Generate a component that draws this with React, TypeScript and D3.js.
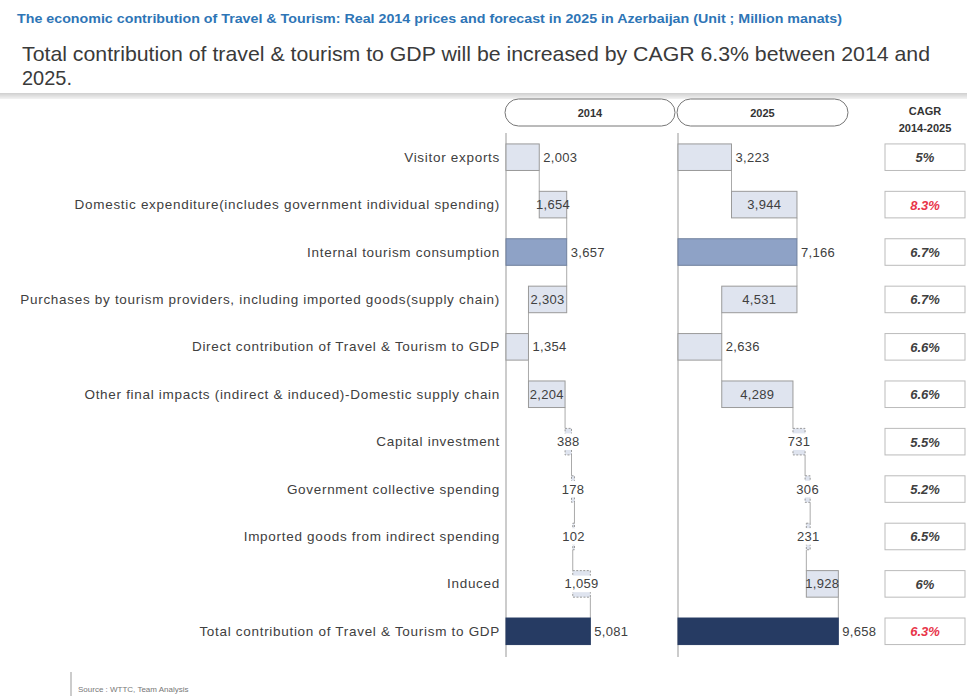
import React from "react";
import * as d3 from "d3";

const categories = [
  "Visitor exports",
  "Domestic expenditure(includes government individual spending)",
  "Internal tourism consumption",
  "Purchases by tourism providers, including imported goods(supply chain)",
  "Direct contribution of Travel & Tourism to GDP",
  "Other final impacts (indirect & induced)-Domestic supply chain",
  "Capital investment",
  "Government collective spending",
  "Imported goods from indirect spending",
  "Induced",
  "Total contribution of Travel & Tourism to GDP",
];

// step type of each row in the waterfall
const steps = ["base", "up", "subtotal", "down", "subtotal", "up", "up", "up", "down", "up", "total"];

const values2014 = [2003, 1654, 3657, 2303, 1354, 2204, 388, 178, 102, 1059, 5081];
const values2025 = [3223, 3944, 7166, 4531, 2636, 4289, 731, 306, 231, 1928, 9658];

const cagrLabels = ["5%", "8.3%", "6.7%", "6.7%", "6.6%", "6.6%", "5.5%", "5.2%", "6.5%", "6%", "6.3%"];
const cagrHighlight = [false, true, false, false, false, false, false, false, false, false, true];

const years = ["2014", "2025"];

const W = 967;
const H = 698;

type Seg = { start: number; end: number; value: number; step: string; run: number };

function buildSegments(values: number[]): Seg[] {
  let run = 0;
  return values.map((v, i) => {
    const step = steps[i];
    let start = 0;
    let end = v;
    if (step === "up") {
      start = run;
      end = run + v;
      run = end;
    } else if (step === "down") {
      start = run - v;
      end = run;
      run = start;
    } else {
      start = 0;
      end = v;
      run = v;
    }
    return { start, end, value: v, step, run };
  });
}

const fmt = d3.format(",");

export default function App() {
  const x = d3.scaleLinear().domain([0, 10000]).range([0, 166]);
  const y = d3
    .scaleBand()
    .domain(categories)
    .range([133.5, 655])
    .paddingInner(0.44)
    .paddingOuter(0.22);
  const bh = y.bandwidth();
  const panels = [
    { x0: 506, segs: buildSegments(values2014), pill: [505, 675] },
    { x0: 678, segs: buildSegments(values2025), pill: [677, 848] },
  ];
  const textCol = "#404040";
  const font = "'Liberation Sans', Arial, sans-serif";

  return (
    <div style={{ position: "absolute", left: 0, top: 0 }}>
      <svg width={W} height={H} style={{ display: "block", background: "#fff" }} fontFamily={font}>
        <defs>
          <linearGradient id="sep" x1="0" x2="0" y1="0" y2="1">
            <stop offset="0" stopColor="#cfcfcf" />
            <stop offset="1" stopColor="#f3f3f3" />
          </linearGradient>
        </defs>
        <text x={17} y={23} fontSize={12.5} fontWeight="bold" fill="#2e75b6" textLength={825} lengthAdjust="spacingAndGlyphs">
          The economic contribution of Travel &amp; Tourism: Real 2014 prices and forecast in 2025 in Azerbaijan (Unit ; Million manats)
        </text>
        <text x={22} y={61} fontSize={21} fill="#3a3a3a" textLength={908} lengthAdjust="spacingAndGlyphs">
          Total contribution of travel &amp; tourism to GDP will be increased  by CAGR 6.3% between 2014 and
        </text>
        <text x={22} y={85} fontSize={21} fill="#3a3a3a" textLength={50} lengthAdjust="spacingAndGlyphs">
          2025.
        </text>
        <rect x={0} y={93} width={W} height={6} fill="url(#sep)" />

        {/* year headers */}
        {panels.map((p, k) => (
          <g key={years[k]}>
            <rect
              x={p.pill[0]}
              y={99}
              width={p.pill[1] - p.pill[0]}
              height={27}
              rx={13.5}
              fill="#fff"
              stroke="#777"
              strokeWidth={1}
            />
            <text x={(p.pill[0] + p.pill[1]) / 2} y={117} textAnchor="middle" fontSize={11} fontWeight="bold" fill="#333">
              {years[k]}
            </text>
          </g>
        ))}
        <text x={925} y={115} textAnchor="middle" fontSize={11} fontWeight="bold" fill="#333">
          CAGR
        </text>
        <text x={925} y={132} textAnchor="middle" fontSize={11} fontWeight="bold" fill="#333">
          2014-2025
        </text>

        {/* category labels */}
        {categories.map((c) => (
          <text
            key={c}
            x={500}
            y={(y(c) as number) + bh / 2 + 4.5}
            textAnchor="end"
            fontSize={13.5}
            letterSpacing={0.7}
            fill={textCol}
          >
            {c}
          </text>
        ))}

        {panels.map((p, k) => (
          <g key={"panel" + k}>
            <line x1={p.x0} x2={p.x0} y1={133} y2={657} stroke="#999" strokeWidth={1} />
            {/* connectors */}
            {p.segs.slice(0, -1).map((s, i) => {
              const yTop = (y(categories[i]) as number) + bh;
              const yBot = y(categories[i + 1]) as number;
              const cx = p.x0 + x(s.run);
              return (
                <line key={"c" + i} x1={cx} x2={cx} y1={yTop} y2={yBot} stroke="#aaa" strokeWidth={1} />
              );
            })}
            {p.segs.map((s, i) => {
              const by = y(categories[i]) as number;
              const bx = p.x0 + x(s.start);
              const bw = x(s.end) - x(s.start);
              const isSub = s.step === "subtotal" && i === 2;
              const fill = s.step === "total" ? "#263b63" : isSub ? "#8ea2c6" : "#dfe4ef";
              const stroke = s.step === "total" ? "#263b63" : isSub ? "#6f7f9c" : "#9a9a9a";
              const outside = s.step === "base" || s.step === "subtotal" || s.step === "total";
              const label = fmt(s.value);
              const narrow = !outside && bw < 20;
              const tw = label.length * 7.4;
              return (
                <g key={"b" + i}>
                  <rect
                    x={bx}
                    y={by}
                    width={bw}
                    height={bh}
                    fill={fill}
                    stroke={stroke}
                    strokeWidth={1}
                    strokeDasharray={narrow ? "2,1.5" : undefined}
                  />
                  {outside ? (
                    <text x={bx + bw + 4} y={by + bh / 2 + 4.5} fontSize={13} letterSpacing={0.3} fill={textCol}>
                      {label}
                    </text>
                  ) : (
                    <g>
                      {narrow && (
                        <rect x={bx + bw / 2 - tw / 2} y={by + 5} width={tw} height={bh - 10} fill="#fff" />
                      )}
                      <text
                        x={bx + bw / 2}
                        y={by + bh / 2 + 4.5}
                        textAnchor="middle"
                        fontSize={13}
                        letterSpacing={0.3}
                        fill={textCol}
                      >
                        {label}
                      </text>
                    </g>
                  )}
                </g>
              );
            })}
          </g>
        ))}

        {/* CAGR boxes */}
        {categories.map((c, i) => {
          const by = y(c) as number;
          return (
            <g key={"g" + i}>
              <rect x={885} y={by} width={80} height={bh} fill="#fff" stroke="#bbb" strokeWidth={1} />
              <text
                x={925}
                y={by + bh / 2 + 5}
                textAnchor="middle"
                fontSize={13}
                fontWeight="bold"
                fontStyle="italic"
                fill={cagrHighlight[i] ? "#e8354a" : "#404040"}
              >
                {cagrLabels[i]}
              </text>
            </g>
          );
        })}

        <line x1={71} x2={71} y1={672} y2={696} stroke="#999" strokeWidth={1} />
        <text x={78} y={692} fontSize={8} fill="#777">
          Source : WTTC, Team Analysis
        </text>
      </svg>
    </div>
  );
}
